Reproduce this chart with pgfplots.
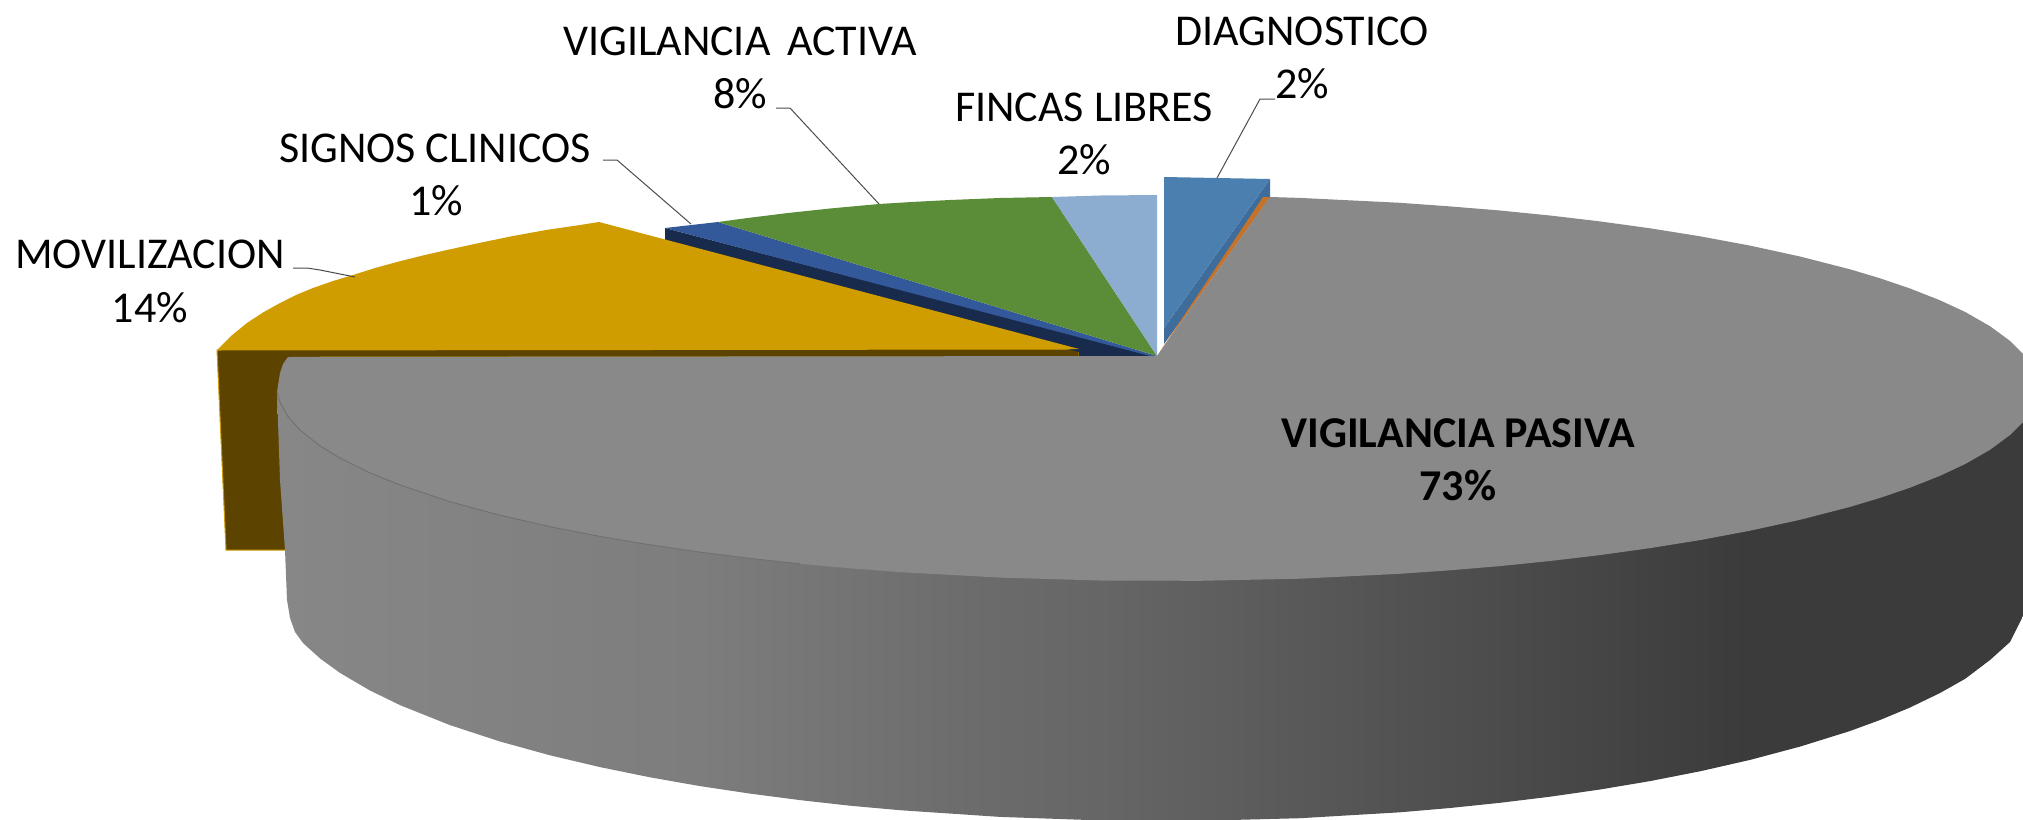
\documentclass[border=0pt]{standalone}
\usepackage{fontspec}
\setmainfont{Carlito}
\usepackage{pgfplots}
\pgfplotsset{compat=1.18}
\definecolor{greytop}{HTML}{898989}
\definecolor{gold}{HTML}{CF9D00}
\definecolor{brown}{HTML}{5C4400}
\definecolor{navy}{HTML}{182B4C}
\definecolor{blue1}{HTML}{34599B}
\definecolor{green1}{HTML}{5B8C37}
\definecolor{ltblue}{HTML}{8CADD0}
\definecolor{diag}{HTML}{4A7FB0}
\definecolor{diagd}{HTML}{3E6D9B}
\definecolor{orange1}{HTML}{C5722A}
\definecolor{edge}{HTML}{6E6E6E}
\pgfdeclarehorizontalshading{pieside}{100bp}{
 color(0bp)=(black!47!white);
 color(25bp)=(black!47!white);
 color(37.1bp)=(black!51!white);
 color(45.3bp)=(black!58!white);
 color(48.6bp)=(black!60!white);
 color(62.9bp)=(black!73!white);
 color(67.2bp)=(black!77!white);
 color(75bp)=(black!77!white);
 color(100bp)=(black!77!white)}
\newcommand{\lab}[1]{\fontsize{22}{26}\selectfont #1}
\begin{document}
\begin{tikzpicture}
\useasboundingbox (0,0) rectangle (1011.5pt,409.5pt);
\begin{axis}[
  at={(0,0)}, anchor=south west,
  hide axis, scale only axis,
  width=1011.5pt, height=409.5pt,
  xmin=0, xmax=2023, ymin=0, ymax=819, y dir=reverse,
]
% Movilizacion side
\addplot[fill=brown, draw=gold, line width=0.5pt] coordinates {(217,350) (226,550) (320,550) (320,357) (1079,357) (1079,349)} -- cycle;
% Signos side
\addplot[fill=navy, draw=none] coordinates {(665,228) (665,242) (1079,352) (1079,357) (1157,357) (1150,355)} -- cycle;
% Movilizacion top
\addplot[fill=gold, draw=none] coordinates {(217,350) (231,336) (247,323) (263,312.5) (280,303) (296,295) (313,288) (333,281) (353,275) (375,268) (397,262) (422,255.7) (447,250) (480,242.8) (513,236) (546,230) (580,225) (599,222) (1079,349)} -- cycle;
% Signos top
\addplot[fill=blue1, draw=none] coordinates {(665,228) (718,222) (1157,356) (1150,356)} -- cycle;
% Vigilancia activa
\addplot[fill=green1, draw=none] coordinates {(718,222) (750,217.7) (788,213) (830,208.5) (879,204) (915,201.8) (950,200) (1000,198) (1052,197) (1157,356)} -- cycle;
% Fincas libres
\addplot[fill=ltblue, draw=none] coordinates {(1052,197) (1100,195.5) (1157,195) (1157,356)} -- cycle;
% Diagnostico
\addplot[fill=diagd, draw=none] coordinates {(1270,179) (1270,197) (1164,344) (1164,328)} -- cycle;
\addplot[fill=diag, draw=none] coordinates {(1164,177) (1270,179) (1164,328)} -- cycle;
% Orange slice
\addplot[fill=orange1, draw=none] coordinates {(1263,197) (1270,197) (1157,356)} -- cycle;
% Side wall of the large slice
\addplot[shading=pieside, draw=none] coordinates {(277,392) (280,480) (285,550) (287,600) (290,618) (295,632) (303,643) (320,658.4) (340,672.9) (370,690.5) (400,705.1) (450,725.1) (500,741.5) (550,755.3) (600,767.1) (650,777.3) (700,786.1) (750,793.6) (800,800.1) (850,805.7) (900,810.2) (1000,816.9) (1100,820.4) (1200,820.8) (1300,818.2) (1400,812.3) (1450,808) (1500,802.8) (1550,796.7) (1600,789.5) (1650,781.1) (1700,771.3) (1750,759.9) (1800,746.6) (1850,731) (1880,720) (1910,707.5) (1940,693) (1965,678.9) (1990,660) (2010,642) (2023,616) (2023,400)} -- cycle;
% Top of the large slice
\addplot[fill=greytop, draw=none] coordinates {(1157,356) (1270,197) (1300,197.9) (1400,202.8) (1450,206.4) (1500,210.5) (1550,215.5) (1600,221.4) (1650,228.3) (1700,236.3) (1750,245.6) (1800,256.5) (1850,269.3) (1880,278.3) (1910,288.5) (1940,300.3) (1965,311.9) (1990,326.2) (2010,340.9) (2023,353.8) (2023,422) (2010,435) (1990,449.8) (1965,464.1) (1940,475.8) (1910,487.7) (1880,497.9) (1850,506.9) (1800,519.8) (1750,530.7) (1700,540.1) (1650,548.1) (1600,555.1) (1550,561) (1500,566.1) (1450,570.3) (1400,573.8) (1300,578.7) (1200,580.8) (1100,580.5) (1000,577.6) (900,572.1) (850,568.3) (800,563.8) (750,558.4) (700,552.1) (650,544.8) (600,536.4) (550,526.7) (500,515.2) (450,501.7) (400,485) (370,472.9) (340,458.1) (320,445.9) (300,430.1) (288,416.6) (280,402) (277,392) (280,373) (283,364) (288,357)} -- cycle;
\addplot[draw=edge, line width=0.4pt] coordinates {(277,392) (280,402) (288,416.6) (300,430.1) (320,445.9) (340,458.1) (370,472.9) (400,485) (450,501.7) (500,515.2) (550,526.7) (600,536.4) (650,544.8) (700,552.1) (750,558.4) (800,563.8)};
% Leader lines
\addplot[draw=black!70, line width=0.5pt] coordinates {(1217,178) (1260,99) (1275,99)};
\addplot[draw=black!70, line width=0.5pt] coordinates {(879,204) (790,108) (776,108)};
\addplot[draw=black!70, line width=0.5pt] coordinates {(691,224) (617,160) (603,160)};
\addplot[draw=black!70, line width=0.5pt] coordinates {(355,277) (320,270) (307,268) (293,268)};
% Labels
\node at (axis cs:1302,31) {\lab{DIAGNOSTICO}};
\node at (axis cs:1302,84) {\lab{2\%}};
\node at (axis cs:1084,107) {\lab{FINCAS LIBRES}};
\node at (axis cs:1084,160) {\lab{2\%}};
\node at (axis cs:740,41) {\lab{VIGILANCIA\hspace{0.15em} ACTIVA}};
\node at (axis cs:740,94) {\lab{8\%}};
\node at (axis cs:435,148) {\lab{SIGNOS CLINICOS}};
\node at (axis cs:436,201) {\lab{1\%}};
\node at (axis cs:150,254) {\lab{MOVILIZACION}};
\node at (axis cs:150,308) {\lab{14\%}};
\node at (axis cs:1458,433) {\lab{\bfseries VIGILANCIA PASIVA}};
\node at (axis cs:1458,486) {\lab{\bfseries 73\%}};
\end{axis}
\end{tikzpicture}
\end{document}
